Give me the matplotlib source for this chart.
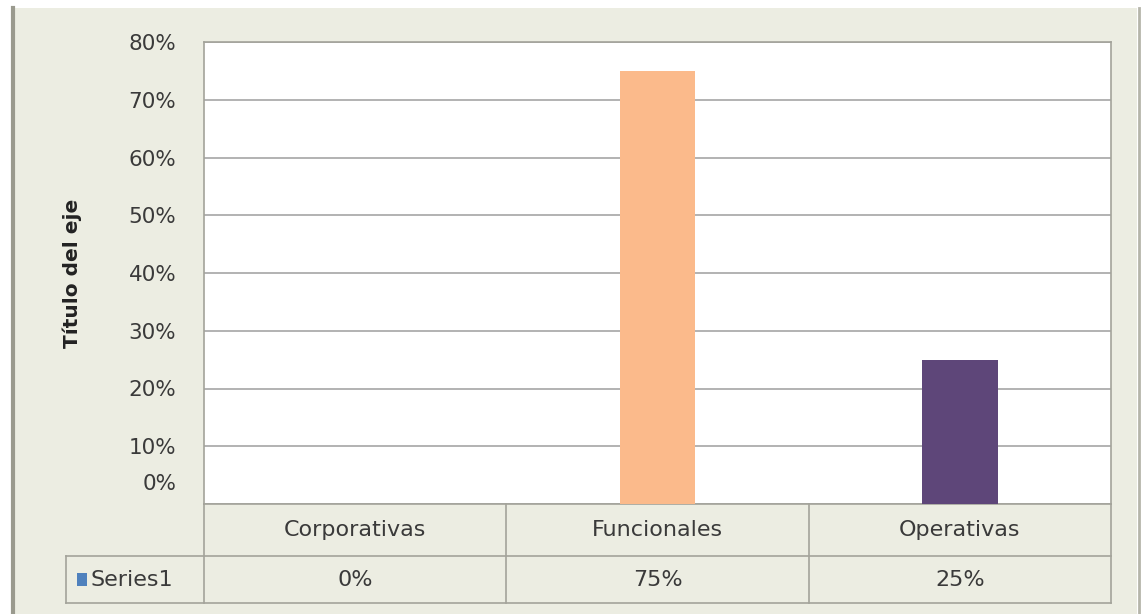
import matplotlib
matplotlib.use("Agg")
import matplotlib.pyplot as plt
from matplotlib.patches import Rectangle
from matplotlib.lines import Line2D
import matplotlib.transforms as mtransforms

# data
categories = ["Corporativas", "Funcionales", "Operativas"]
values = [0.0, 0.75, 0.25]
series_name = "Series1"
bar_colors = ["#4F81BD", "#FBBA8B", "#5E4679"]
yticks = [0.0, 0.1, 0.2, 0.3, 0.4, 0.5, 0.6, 0.7, 0.8]

bg = "#ECEDE2"
edge = "#A3A39A"
txt = "#3A3A3A"

fig = plt.figure(figsize=(11.45, 6.14), dpi=100)
fig.patch.set_facecolor("white")

# chart area background and frame
fig.patches.append(Rectangle((14 / 1145, 0), 1123 / 1145, 1 - 8 / 614,
                             transform=fig.transFigure, facecolor=bg,
                             edgecolor="none", zorder=0))
fig.lines.append(Line2D([13 / 1145, 13 / 1145], [0, 1 - 8 / 614],
                        transform=fig.transFigure, color="#9A9A8E", lw=3))
fig.lines.append(Line2D([1139 / 1145, 1139 / 1145], [0, 1 - 8 / 614],
                        transform=fig.transFigure, color="#B5B5AA", lw=2))

ax = fig.add_axes([204 / 1145, 1 - 504 / 614, 907 / 1145, 462 / 614])
ax.set_zorder(5)
ax.set_facecolor("white")

x = range(len(categories))
ax.bar(x, values, width=0.25, color=bar_colors, zorder=3)

ax.set_xlim(-0.5, 2.5)
ax.set_ylim(0, 0.8)
ax.set_yticks(yticks)
ax.set_yticklabels([f"{int(round(v * 100))}%" for v in yticks],
                   fontsize=15.5, color=txt)
ax.tick_params(axis="y", length=0, pad=20)
ax.set_xticks([])
ax.grid(axis="y", color="#A6A6A6", lw=1.2, zorder=1)
for s in ["top", "right", "left"]:
    ax.spines[s].set_color(edge)
    ax.spines[s].set_linewidth(1.2)
ax.spines["bottom"].set_visible(False)

# 0% label sits a bit higher because of the data table
lbl0 = ax.get_yticklabels()[0]
lbl0.set_transform(lbl0.get_transform() +
                   mtransforms.ScaledTranslation(0, 22 / 100, fig.dpi_scale_trans))

ax.set_ylabel("Título del eje", fontsize=14.5, fontweight="bold", color="#222222")
ax.yaxis.set_label_coords(-0.134, 0.5)

# data table under the plot
tr = mtransforms.blended_transform_factory(ax.transData, ax.transAxes)
row1_top, row1_bot, row2_bot = 0.0, -52 / 462, -99 / 462
x_left_series = -0.5 - 138 / 907 * 3

for xv in [-0.5, 0.5, 1.5, 2.5]:
    ax.plot([xv, xv], [row1_top, row2_bot], transform=tr, color=edge,
            lw=1.2, clip_on=False)
ax.plot([-0.5, 2.5], [row1_top, row1_top], transform=tr, color=edge, lw=1.2,
        clip_on=False)
ax.plot([x_left_series, 2.5], [row1_bot, row1_bot], transform=tr, color=edge,
        lw=1.2, clip_on=False)
ax.plot([x_left_series, 2.5], [row2_bot, row2_bot], transform=tr, color=edge,
        lw=1.2, clip_on=False)
ax.plot([x_left_series, x_left_series], [row1_bot, row2_bot], transform=tr,
        color=edge, lw=1.2, clip_on=False)

for i, (c, v) in enumerate(zip(categories, values)):
    ax.text(i, (row1_top + row1_bot) / 2, c, transform=tr, ha="center",
            va="center", fontsize=16, color=txt)
    ax.text(i, (row1_bot + row2_bot) / 2, f"{int(round(v * 100))}%",
            transform=tr, ha="center", va="center", fontsize=16, color=txt)

# legend key in the series cell
row2_mid = (row1_bot + row2_bot) / 2
ax.add_patch(Rectangle((x_left_series + 0.036, row2_mid - 0.013), 0.035, 0.026,
                       transform=tr, facecolor=bar_colors[0], edgecolor="none",
                       clip_on=False))
ax.text(x_left_series + 0.08, row2_mid, series_name,
        transform=tr, ha="left", va="center", fontsize=16, color=txt)

fig.savefig("out.png", dpi=100, facecolor=fig.get_facecolor())
